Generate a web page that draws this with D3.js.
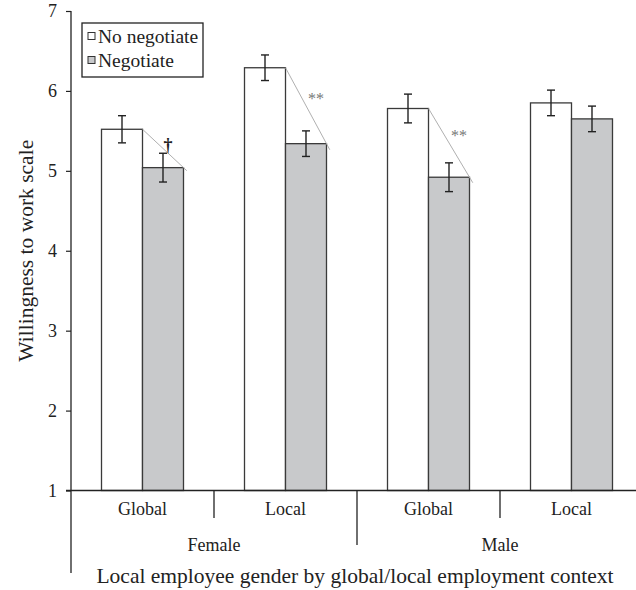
<!DOCTYPE html>
<html>
<head>
<meta charset="utf-8">
<script src="https://cdn.jsdelivr.net/npm/d3@7"></script>
<style>
  html, body { margin: 0; padding: 0; background: #fff; }
  svg { display: block; font-family: "Liberation Serif", "Times New Roman", serif; }
</style>
</head>
<body>
<div id="chart"></div>
<script>
// Willingness-to-work means by local employee gender and employment context
const genders = ["Female", "Male"];
const contexts = ["Global", "Local"];
const conditions = ["No negotiate", "Negotiate"];
const noNegotiate = [5.52, 6.29, 5.78, 5.85];
const negotiate = [5.04, 5.34, 4.92, 5.65];
const noNegotiateErr = [0.17, 0.16, 0.18, 0.16];
const negotiateErr = [0.18, 0.16, 0.18, 0.16];
const significance = ["†", "**", "**", ""];
const yTicks = [1, 2, 3, 4, 5, 6, 7];

const width = 636, height = 590;
const plotLeft = 71, plotRight = 643, plotTop = 11, plotBase = 490.5;

const cells = [];
genders.forEach((g, gi) => contexts.forEach((c, ci) => {
  const i = gi * contexts.length + ci;
  cells.push({
    key: g + "|" + c, gender: g, context: c,
    values: [noNegotiate[i], negotiate[i]],
    errs: [noNegotiateErr[i], negotiateErr[i]],
    sig: significance[i]
  });
}));

const svg = d3.select("#chart").append("svg")
  .attr("width", width).attr("height", height);

const y = d3.scaleLinear().domain([1, 7]).range([plotBase, plotTop]);
const x0 = d3.scaleBand().domain(cells.map(d => d.key)).range([plotLeft, plotRight]);
const x1 = d3.scaleBand().domain(conditions).range([0, x0.bandwidth()])
  .paddingInner(0).paddingOuter(0.744);
const gx = d3.scaleBand().domain(genders).range([plotLeft, plotRight]);
const fill = d3.scaleOrdinal().domain(conditions).range(["#ffffff", "#c8c9cb"]);

// bars
const groups = svg.append("g").selectAll("g").data(cells).join("g")
  .attr("transform", d => `translate(${x0(d.key)},0)`);

groups.selectAll("rect").data(d => conditions.map((k, j) => ({ k, v: d.values[j] })))
  .join("rect")
  .attr("x", d => x1(d.k))
  .attr("y", d => y(d.v))
  .attr("width", x1.bandwidth())
  .attr("height", d => y(1) - y(d.v))
  .attr("fill", d => fill(d.k))
  .attr("stroke", "#3a3a3a")
  .attr("stroke-width", 1.3);

// connector from each no-negotiate bar top to its negotiate bar top
groups.filter(d => d.sig).each(function (d) {
  const g = d3.select(this);
  const xA = x1(conditions[0]) + x1.bandwidth(), yA = y(d.values[0]);
  const xB = x1(conditions[1]) + x1.bandwidth(), yB = y(d.values[1]);
  const ext = 0.08;
  g.append("line")
    .attr("x1", xA).attr("y1", yA)
    .attr("x2", xB + (xB - xA) * ext).attr("y2", yB + (yB - yA) * ext)
    .attr("stroke", "#b0b0b0").attr("stroke-width", 1);
  const mx = (xA + xB) / 2, my = (yA + yB) / 2;
  const dagger = d.sig === "†";
  g.append("text")
    .attr("x", mx + (dagger ? 5 : 10))
    .attr("y", my + (dagger ? 3 : -2))
    .attr("text-anchor", "middle")
    .attr("font-size", dagger ? 18 : 16)
    .attr("font-weight", dagger ? "bold" : "normal")
    .attr("fill", dagger ? "#222" : "#777")
    .text(d.sig);
});

// error bars
groups.selectAll("g.err").data(d => conditions.map((k, j) => ({ k, v: d.values[j], e: d.errs[j] })))
  .join("g").attr("class", "err")
  .attr("stroke", "#222").attr("stroke-width", 1.4)
  .each(function (d) {
    const g = d3.select(this);
    const cx = x1(d.k) + x1.bandwidth() / 2;
    g.append("line").attr("x1", cx).attr("x2", cx).attr("y1", y(d.v + d.e)).attr("y2", y(d.v - d.e));
    [d.v + d.e, d.v - d.e].forEach(v => g.append("line")
      .attr("x1", cx - 4).attr("x2", cx + 4).attr("y1", y(v)).attr("y2", y(v)));
  });

// y axis
const yAxis = svg.append("g").attr("transform", `translate(${plotLeft},0)`)
  .call(d3.axisLeft(y).tickValues(yTicks).tickSize(5).tickPadding(9).tickFormat(d3.format("d")));
yAxis.select(".domain").remove();
yAxis.selectAll(".tick line").attr("stroke", "#222").attr("stroke-width", 1.2);
yAxis.selectAll(".tick text").attr("font-size", 18).attr("fill", "#222")
  .attr("font-family", "Liberation Serif, serif");

const axisStroke = "#222";
svg.append("line").attr("x1", plotLeft).attr("x2", plotLeft).attr("y1", y(7)).attr("y2", 573)
  .attr("stroke", axisStroke).attr("stroke-width", 1.3);
svg.append("line").attr("x1", plotLeft - 5).attr("x2", plotRight).attr("y1", plotBase).attr("y2", plotBase)
  .attr("stroke", axisStroke).attr("stroke-width", 1.3);

// dividers between context categories and between genders
cells.forEach((d, i) => {
  if (i === 0) return;
  const xv = x0(d.key);
  const isGender = d.context === contexts[0];
  svg.append("line").attr("x1", xv).attr("x2", xv)
    .attr("y1", plotBase).attr("y2", isGender ? 545 : 518)
    .attr("stroke", axisStroke).attr("stroke-width", 1.3);
});

// category labels
svg.append("g").selectAll("text").data(cells).join("text")
  .attr("x", d => x0(d.key) + x0.bandwidth() / 2)
  .attr("y", 515)
  .attr("text-anchor", "middle").attr("font-size", 18).attr("fill", "#222")
  .text(d => d.context);

svg.append("g").selectAll("text").data(genders).join("text")
  .attr("x", d => gx(d) + gx.bandwidth() / 2)
  .attr("y", 551)
  .attr("text-anchor", "middle").attr("font-size", 18).attr("fill", "#222")
  .text(d => d);

svg.append("text")
  .attr("x", 355).attr("y", 583)
  .attr("text-anchor", "middle").attr("font-size", 21.5).attr("fill", "#222")
  .text("Local employee gender by global/local employment context");

svg.append("text")
  .attr("transform", `translate(33,${(y(7) + plotBase) / 2}) rotate(-90)`)
  .attr("text-anchor", "middle").attr("font-size", 21.5).attr("fill", "#222")
  .text("Willingness to work scale");

// legend
const legend = svg.append("g").attr("transform", "translate(82,23)");
legend.append("rect").attr("width", 121).attr("height", 54)
  .attr("fill", "#fff").attr("stroke", "#222").attr("stroke-width", 1.3);
conditions.forEach((k, i) => {
  const row = legend.append("g").attr("transform", `translate(6,${13 + i * 24})`);
  row.append("rect").attr("x", 0).attr("y", -3.5).attr("width", 7).attr("height", 7)
    .attr("fill", fill(k)).attr("stroke", "#333").attr("stroke-width", 1);
  row.append("text").attr("x", 10).attr("y", 7).attr("font-size", 19.5).attr("fill", "#222").text(k);
});
</script>
</body>
</html>
